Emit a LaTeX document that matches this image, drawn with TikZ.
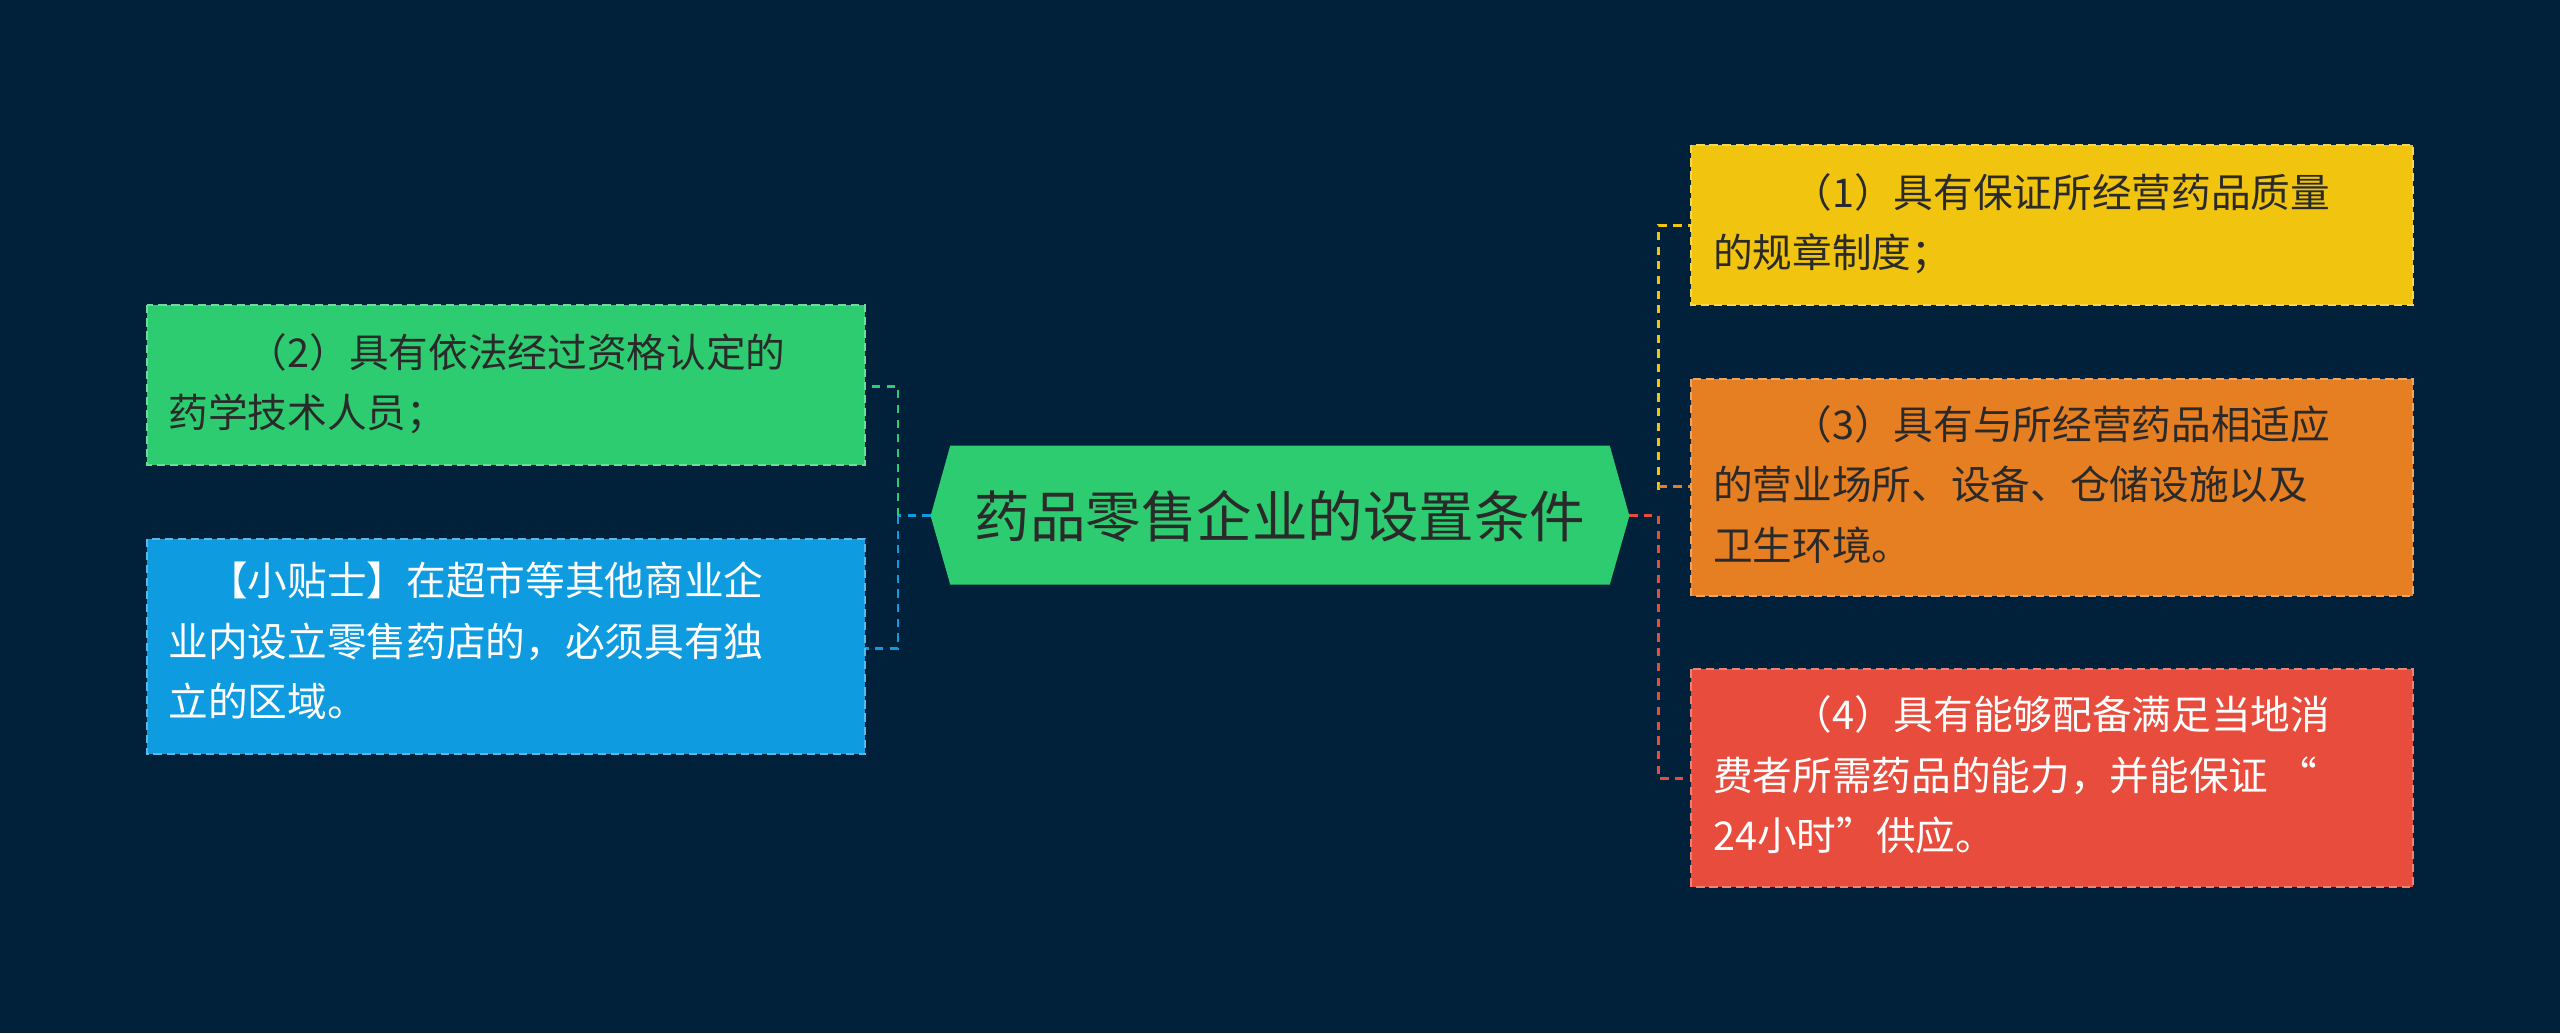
\documentclass[tikz,border=0pt]{standalone}
\usepackage{fontspec}
\newfontfamily\cjk{Noto Sans CJK SC}
\definecolor{bg}{HTML}{012039}
\definecolor{cg}{HTML}{2ECC71}
\definecolor{cb}{HTML}{0E9BE0}
\definecolor{cy}{HTML}{F1C40F}
\definecolor{co}{HTML}{E67E22}
\definecolor{cr}{HTML}{E74C3C}
\definecolor{tx}{HTML}{2A2A2A}
\tikzset{
 leaf/.style={draw=#1!70!white,fill=#1,dashed,line width=1.2pt,dash pattern=on 5pt off 3pt},
 lbl/.style={anchor=north west,align=left,inner sep=0pt,font=\cjk\fontsize{24.3}{37}\selectfont},
 conn/.style={draw=#1,line width=1.8pt,dash pattern=on 5pt off 4pt}
}
\begin{document}
\begin{tikzpicture}[x=1pt,y=-1pt]
\fill[bg] (0,0) rectangle (1568,633);
\useasboundingbox (0,0) rectangle (1568,633);
% connectors
\coordinate (cl) at (570,316);
\coordinate (cr) at (998,316);
\draw[conn=cb] (cl) -- (550,316);
\draw[conn=cg] (550,316) -- (550,237) -- (530,237);
\draw[conn=cb] (550,316) -- (550,397) -- (530,397);
\draw[conn=cr] (cr) -- (1016,316);
\draw[conn=cy] (1016,300) -- (1016,138) -- (1036,138);
\draw[conn=co] (1016,298) -- (1036,298);
\draw[conn=cr] (1016,316) -- (1016,477) -- (1036,477);
% center
\fill[cg] (570,316) -- (582,273) -- (986,273) -- (998,316) -- (986,358) -- (582,358) -- cycle;
\node[font=\cjk\fontsize{34}{40}\selectfont,text=tx] (c) at (784,316) {药品零售企业的设置条件};
% left
\path[leaf=cg] (90,187) rectangle (530,285);
\node[lbl,text=tx] (l1) at (103,204) {\hspace*{2em}（2）具有依法经过资格认定的\\药学技术人员；};
\path[leaf=cb] (90,330) rectangle (530,462);
\node[lbl,text=white] (l2) at (103,344) {\hspace*{1em}【小贴士】在超市等其他商业企\\业内设立零售药店的，必须具有独\\立的区域。};
% right
\path[leaf=cy] (1036,89) rectangle (1478,187);
\node[lbl,text=tx] (r1) at (1049,106) {\hspace*{2em}（1）具有保证所经营药品质量\\的规章制度；};
\path[leaf=co] (1036,232) rectangle (1478,365);
\node[lbl,text=tx] (r2) at (1049,248) {\hspace*{2em}（3）具有与所经营药品相适应\\的营业场所、设备、仓储设施以及\\卫生环境。};
\path[leaf=cr] (1036,410) rectangle (1478,543);
\node[lbl,text=white] (r3) at (1049,426) {\hspace*{2em}（4）具有能够配备满足当地消\\费者所需药品的能力，并能保证 “\\24小时”供应。};
\end{tikzpicture}
\end{document}
